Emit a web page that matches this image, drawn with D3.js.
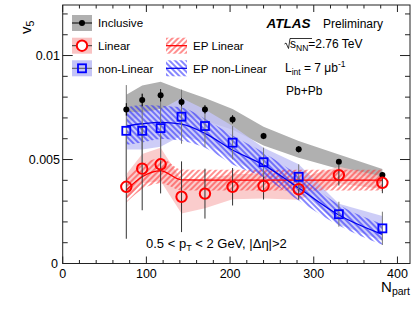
<!DOCTYPE html>
<html>
<head>
<meta charset="utf-8">
<script src="https://cdn.jsdelivr.net/npm/d3@7"></script>
<style>
  body { margin: 0; background: #fff; }
  svg text { font-family: "Liberation Sans", Arial, sans-serif; }
</style>
</head>
<body>
<svg id="chart" width="415" height="311"></svg>
<script>
// Npart bins (centrality 45-50% ... 0-5%)
const npart = [76, 95, 117, 142, 170, 203, 240, 282, 330, 382];

const inclusive    = [0.00741, 0.00786, 0.00809, 0.00776, 0.00741, 0.00693, 0.00613, 0.00549, 0.00489, 0.00425];
const inclusiveErr = [0.0003, 0.0003, 0.0003, 0.0002, 0.0002, 0.0002, 0.00015, 0.00015, 0.0001, 0.0001];
const inclusiveSys = [0.0007, 0.0007, 0.00065, 0.0006, 0.00055, 0.0005, 0.00045, 0.0004, 0.00035, 0.0003];

const linear    = [0.00369, 0.00456, 0.00477, 0.00321, 0.00336, 0.00369, 0.00373, 0.00357, 0.00425, 0.00388];
const linearErr = [0.0025, 0.002, 0.0014, 0.0017, 0.0012, 0.0009, 0.00065, 0.0005, 0.0005, 0.0005];
const linearSys = [0.0006, 0.0007, 0.0008, 0.0008, 0.0007, 0.0006, 0.0006, 0.0005, 0.0004, 0.0003];

const nonLinear    = [0.00638, 0.00638, 0.00651, 0.00706, 0.00661, 0.00581, 0.00487, 0.00417, 0.00237, 0.00169];
const nonLinearErr = [0.0022, 0.0018, 0.0016, 0.0013, 0.001, 0.0008, 0.0007, 0.0006, 0.0006, 0.0008];
const nonLinearSys = [0.0009, 0.0009, 0.0009, 0.0009, 0.0008, 0.0008, 0.0007, 0.0006, 0.0005, 0.0006];

const epLinear       = [0.00353, 0.00417, 0.00446, 0.00402, 0.00401, 0.00401, 0.00401, 0.00401, 0.00401, 0.00401];
const epLinearSys    = [0.0006, 0.0006, 0.0006, 0.0005, 0.0005, 0.0005, 0.0005, 0.0005, 0.0005, 0.0005];
const epNonLinear    = [0.00661, 0.00672, 0.00679, 0.0067, 0.00626, 0.00546, 0.00474, 0.00363, 0.00233, 0.0014];
const epNonLinearSys = [0.0009, 0.0009, 0.0008, 0.0008, 0.0007, 0.0007, 0.0006, 0.0006, 0.0005, 0.0005];

const xTicks = [0, 100, 200, 300, 400];
const yTicks = [0, 0.005, 0.01];

const svg = d3.select("#chart");
const x = d3.scaleLinear().domain([0, 415]).range([62.7, 410]);
const y = d3.scaleLinear().domain([0, 0.01243]).range([263.5, 5]);

// hatch patterns
const defs = svg.append("defs");
function hatch(id, color, angle) {
    defs.append("pattern").attr("id", id).attr("patternUnits", "userSpaceOnUse")
        .attr("width", 4).attr("height", 4).attr("patternTransform", `rotate(${angle})`)
        .append("line").attr("x1", 1).attr("y1", 0).attr("x2", 1).attr("y2", 4)
        .attr("stroke", color).attr("stroke-width", 1.1);
}
hatch("hatchRed", "#ff3333", 45);
hatch("hatchBlue", "#2222ff", -45);

function band(vals, sys, curve) {
    const pts = npart.map((n, i) => ({ n, lo: vals[i] - sys[i], hi: vals[i] + sys[i] }));
    return d3.area().x(d => x(d.n)).y0(d => y(d.lo)).y1(d => y(d.hi)).curve(curve || d3.curveLinear)(pts);
}
function line(vals, curve) {
    return d3.line().x((d, i) => x(npart[i])).y(d => y(d)).curve(curve || d3.curveLinear)(vals);
}

// systematic bands
svg.append("path").attr("d", band(inclusive, inclusiveSys)).attr("fill", "#b0b0b0");
svg.append("path").attr("d", band(linear, linearSys)).attr("fill", "#f9c3c3").attr("fill-opacity", 0.85);
svg.append("path").attr("d", band(nonLinear, nonLinearSys)).attr("fill", "#c4c4f6").attr("fill-opacity", 0.85);

// EP results
const smooth = d3.curveMonotoneX;
svg.append("path").attr("d", band(epLinear, epLinearSys, smooth)).attr("fill", "url(#hatchRed)");
svg.append("path").attr("d", band(epNonLinear, epNonLinearSys, smooth)).attr("fill", "url(#hatchBlue)");
svg.append("path").attr("d", line(epLinear, smooth)).attr("fill", "none").attr("stroke", "#ff0000").attr("stroke-width", 1.3);
svg.append("path").attr("d", line(epNonLinear, smooth)).attr("fill", "none").attr("stroke", "#0000ee").attr("stroke-width", 1.3);

// statistical error bars
function errBars(vals, errs, color) {
    svg.append("g").selectAll("line").data(vals).enter().append("line")
        .attr("x1", (d, i) => x(npart[i])).attr("x2", (d, i) => x(npart[i]))
        .attr("y1", (d, i) => y(d - errs[i])).attr("y2", (d, i) => y(d + errs[i]))
        .attr("stroke", color).attr("stroke-width", 1);
}
errBars(linear, linearErr, "#333");
errBars(nonLinear, nonLinearErr, "#777");
errBars(inclusive, inclusiveErr, "#000");

// markers
svg.append("g").selectAll("circle").data(inclusive).enter().append("circle")
    .attr("cx", (d, i) => x(npart[i])).attr("cy", d => y(d)).attr("r", 3).attr("fill", "#000");
svg.append("g").selectAll("circle").data(linear).enter().append("circle")
    .attr("cx", (d, i) => x(npart[i])).attr("cy", d => y(d)).attr("r", 5.2)
    .attr("fill", "none").attr("stroke", "#ff0000").attr("stroke-width", 2);
svg.append("g").selectAll("rect").data(nonLinear).enter().append("rect")
    .attr("x", (d, i) => x(npart[i]) - 4).attr("y", d => y(d) - 4)
    .attr("width", 8).attr("height", 8)
    .attr("fill", "none").attr("stroke", "#0000ff").attr("stroke-width", 1.8);

// frame and ticks (ROOT style, ticks on all sides)
const x0 = x.range()[0], x1 = x.range()[1], y0 = y.range()[0], y1 = y.range()[1];
const axes = svg.append("g").attr("stroke", "#222").attr("stroke-width", 1);
axes.append("rect").attr("x", x0).attr("y", y1).attr("width", x1 - x0).attr("height", y0 - y1).attr("fill", "none");
d3.range(0, 416, 20).forEach(v => {
    const len = v % 100 === 0 ? 7 : 3.5;
    axes.append("line").attr("x1", x(v)).attr("x2", x(v)).attr("y1", y0).attr("y2", y0 - len);
    axes.append("line").attr("x1", x(v)).attr("x2", x(v)).attr("y1", y1).attr("y2", y1 + len);
});
d3.range(0, 0.01243, 0.001).forEach((v, i) => {
    const len = i % 5 === 0 ? 10 : 5;
    axes.append("line").attr("x1", x0).attr("x2", x0 + len).attr("y1", y(v)).attr("y2", y(v));
    axes.append("line").attr("x1", x1).attr("x2", x1 - len).attr("y1", y(v)).attr("y2", y(v));
});

svg.append("g").selectAll("text").data(xTicks).enter().append("text")
    .attr("x", d => x(d)).attr("y", 278).attr("text-anchor", "middle")
    .attr("font-size", 12.5).text(d => d);
svg.append("g").selectAll("text").data(yTicks).enter().append("text")
    .attr("x", d => d === 0 ? 58 : 60).attr("y", d => y(d) + 4.5).attr("text-anchor", "end")
    .attr("font-size", 12.5).text(d => d === 0 ? "0" : d3.format("")(d));

// axis titles
const xt = svg.append("text").attr("x", 410).attr("y", 292).attr("text-anchor", "end").attr("font-size", 15);
xt.append("tspan").text("N");
xt.append("tspan").attr("font-size", 10.5).attr("dy", 3).text("part");

const yt = svg.append("text").attr("transform", "translate(31,34) rotate(-90)").attr("font-size", 15);
yt.append("tspan").text("v");
yt.append("tspan").attr("font-size", 10.5).attr("dy", 3).text("5");

// legend
const fs = 11.6;
function legBox(bx, cy, fill) {
    svg.append("rect").attr("x", bx).attr("y", cy - 8).attr("width", 20).attr("height", 16).attr("fill", fill);
}
legBox(72, 23, "#b0b0b0");
svg.append("line").attr("x1", 72).attr("x2", 92).attr("y1", 23).attr("y2", 23).attr("stroke", "#000");
svg.append("circle").attr("cx", 82).attr("cy", 23).attr("r", 3).attr("fill", "#000");
svg.append("text").attr("x", 98).attr("y", 27).attr("font-size", fs).text("Inclusive");

legBox(72, 45.7, "#f9c3c3");
svg.append("line").attr("x1", 72).attr("x2", 92).attr("y1", 45.7).attr("y2", 45.7).attr("stroke", "#333");
svg.append("circle").attr("cx", 82).attr("cy", 45.7).attr("r", 5.2).attr("fill", "#fff").attr("stroke", "#ff0000").attr("stroke-width", 2);
svg.append("text").attr("x", 98).attr("y", 50).attr("font-size", fs).text("Linear");

legBox(72, 68.3, "#c4c4f6");
svg.append("line").attr("x1", 72).attr("x2", 92).attr("y1", 68.3).attr("y2", 68.3).attr("stroke", "#555");
svg.append("rect").attr("x", 78).attr("y", 64.3).attr("width", 8).attr("height", 8).attr("fill", "none").attr("stroke", "#0000ff").attr("stroke-width", 1.8);
svg.append("text").attr("x", 98).attr("y", 72.5).attr("font-size", fs).text("non-Linear");

svg.append("rect").attr("x", 166).attr("y", 37.7).attr("width", 21).attr("height", 16).attr("fill", "url(#hatchRed)");
svg.append("line").attr("x1", 166).attr("x2", 187).attr("y1", 45.7).attr("y2", 45.7).attr("stroke", "#ff0000").attr("stroke-width", 1.3);
svg.append("text").attr("x", 193).attr("y", 50).attr("font-size", fs).text("EP Linear");

svg.append("rect").attr("x", 166).attr("y", 60.3).attr("width", 21).attr("height", 16).attr("fill", "url(#hatchBlue)");
svg.append("line").attr("x1", 166).attr("x2", 187).attr("y1", 68.3).attr("y2", 68.3).attr("stroke", "#0000ee").attr("stroke-width", 1.3);
svg.append("text").attr("x", 193).attr("y", 72.5).attr("font-size", fs).text("EP non-Linear");

// ATLAS labels
svg.append("text").attr("x", 266.5).attr("y", 27.5).attr("font-size", 13.5)
    .attr("font-weight", "bold").attr("font-style", "italic").text("ATLAS");
svg.append("text").attr("x", 323).attr("y", 27.5).attr("font-size", 12).text("Preliminary");

svg.append("path").attr("d", "M284.5,44 L286,43 L288.5,48.5 L290,38.5 L312,38.5")
    .attr("fill", "none").attr("stroke", "#000").attr("stroke-width", 0.8);
const sq = svg.append("text").attr("x", 290).attr("y", 48).attr("font-size", 12);
sq.append("tspan").text("s");
sq.append("tspan").attr("font-size", 8.5).attr("dy", 2.5).text("NN");
sq.append("tspan").attr("dy", -2.5).text("=2.76 TeV");

const lum = svg.append("text").attr("x", 285).attr("y", 72).attr("font-size", 12);
lum.append("tspan").text("L");
lum.append("tspan").attr("font-size", 8.5).attr("dy", 2.5).text("int");
lum.append("tspan").attr("dy", -2.5).text(" = 7 \u03bcb");
lum.append("tspan").attr("font-size", 8.5).attr("dy", -5).text("-1");

svg.append("text").attr("x", 286).attr("y", 95).attr("font-size", 12).text("Pb+Pb");

const cut = svg.append("text").attr("x", 146).attr("y", 248).attr("font-size", 13);
cut.append("tspan").text("0.5 < p");
cut.append("tspan").attr("font-size", 9).attr("dy", 3).text("T");
cut.append("tspan").attr("dy", -3).text(" < 2 GeV, |\u0394\u03b7|>2");
</script>
</body>
</html>
